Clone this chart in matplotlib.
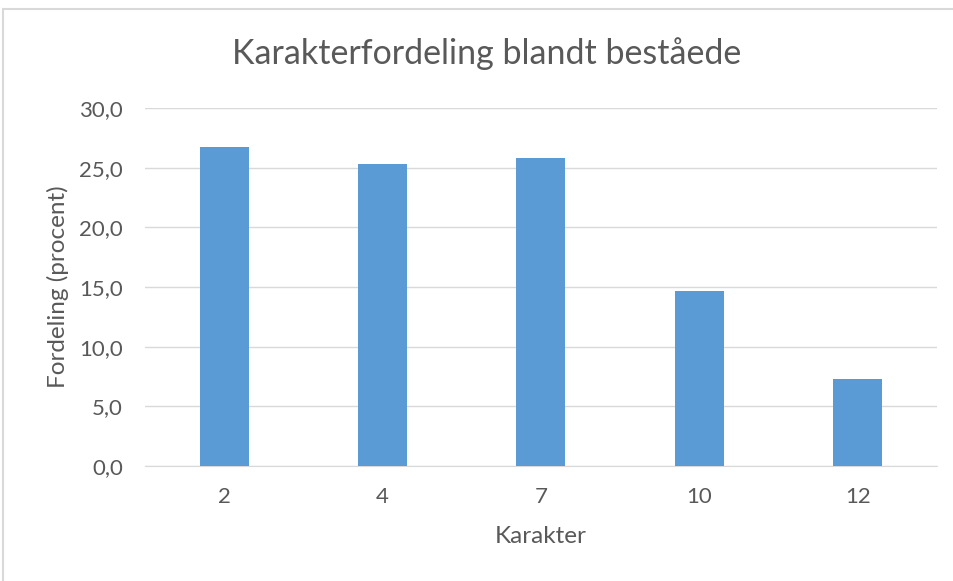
import matplotlib.pyplot as plt
from matplotlib.patches import Rectangle

# Data
karakterer = ["2", "4", "7", "10", "12"]
fordeling = [26.7, 25.3, 25.8, 14.7, 7.3]
yticks = [0, 5, 10, 15, 20, 25, 30]

plt.rcParams["font.family"] = ["Lato", "DejaVu Sans"]
tekst_farve = "#595959"
bar_farve = "#5B9BD5"
grid_farve = "#D9D9D9"

fig = plt.figure(figsize=(9.54, 5.81), dpi=100)
ax = fig.add_axes([0.152, 0.198, 0.83, 0.616])

x = range(len(karakterer))
ax.bar(x, fordeling, width=0.31, color=bar_farve, zorder=3)

ax.set_xlim(-0.5, len(karakterer) - 0.5)
ax.set_ylim(0, 30)
ax.set_yticks(yticks)
ax.set_yticklabels([f"{v:.1f}".replace(".", ",") for v in yticks])
ax.set_xticks(list(x))
ax.set_xticklabels(karakterer)

ax.grid(axis="y", color=grid_farve, linewidth=1, zorder=0)
for side in ["top", "right", "left"]:
    ax.spines[side].set_visible(False)
ax.spines["bottom"].set_color(grid_farve)
ax.tick_params(axis="both", length=0, labelsize=16, colors=tekst_farve)
ax.tick_params(axis="y", pad=16)
ax.tick_params(axis="x", pad=15)

ax.set_xlabel("Karakter", fontsize=17.5, color=tekst_farve, labelpad=14)
ax.set_ylabel("Fordeling (procent)", fontsize=17.5, color=tekst_farve, labelpad=7)
fig.text(0.51, 0.907, "Karakterfordeling blandt beståede", fontsize=24.5,
         color=tekst_farve, ha="center", va="center")

# ramme om diagrammet
fig.patches.append(Rectangle((3 / 954, -0.01), 1.0, 1 - 9 / 581 + 0.01,
                             transform=fig.transFigure, fill=False,
                             edgecolor=grid_farve, linewidth=1.5))

fig.savefig("out.png", dpi=100)
